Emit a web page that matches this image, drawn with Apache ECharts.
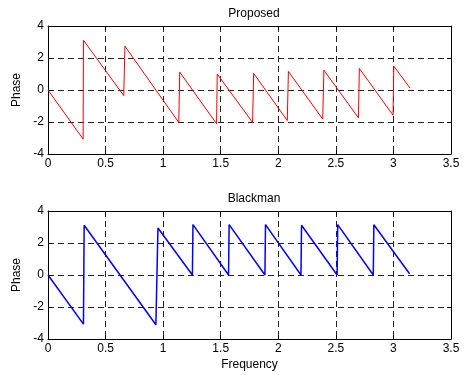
<!DOCTYPE html>
<html>
<head>
<meta charset="utf-8">
<script src="https://cdn.jsdelivr.net/npm/echarts@6/dist/echarts.min.js"></script>
<style>
  html, body { margin: 0; padding: 0; background: #fff; }
  #main { width: 465px; height: 375px; }
</style>
</head>
<body>
<div id="main"></div>
<script>
// Proposed (red)
var propX = [0, 0.305, 0.308, 0.658, 0.668, 1.136, 1.144, 1.464, 1.470, 1.777, 1.786, 2.078, 2.088, 2.386, 2.396, 2.696, 2.704, 2.997, 3.003, 3.145];
var propY = [0, -3.07, 3.11, -0.35, 2.74, -2.03, 1.12, -2.11, 1.00, -2.03, 1.04, -1.91, 1.16, -1.82, 1.24, -1.74, 1.35, -1.58, 1.49, 0.12];

// Blackman (blue)
var blackX = [0, 0.308, 0.314, 0.937, 0.955, 1.254, 1.259, 1.568, 1.573, 1.884, 1.889, 2.197, 2.202, 2.511, 2.516, 2.825, 2.830, 3.14];
var blackY = [0, -3.07, 3.11, -3.11, 2.94, 0, 3.15, 0, 3.15, 0, 3.15, 0, 3.11, 0, 3.15, 0, 3.14, 0.08];

var xTicks = [0, 0.5, 1, 1.5, 2, 2.5, 3, 3.5];
var yTicks = [-4, -2, 0, 2, 4];

function pairs(xs, ys) {
    var out = [];
    for (var i = 0; i < xs.length; i++) out.push([xs[i], ys[i]]);
    return out;
}

var font = 'Liberation Sans, Arial, sans-serif';
var dash = { color: '#222', type: [6, 4], width: 1 };

function xAx(gi, pos, withLabel, name) {
    return {
        gridIndex: gi, type: 'value', position: pos,
        min: 0, max: 3.5, interval: 0.5,
        axisLine: { show: true, onZero: false, lineStyle: { color: '#000', width: 1 } },
        axisTick: { show: true, inside: true, length: 4, lineStyle: { color: '#000' } },
        axisLabel: { show: withLabel, color: '#000', fontSize: 12, fontFamily: font, margin: 4 },
        splitLine: { show: withLabel, lineStyle: dash },
        name: name || '', nameLocation: 'middle', nameGap: 20,
        nameTextStyle: { color: '#000', fontSize: 12, fontFamily: font }
    };
}
function yAx(gi, pos, withLabel) {
    return {
        gridIndex: gi, type: 'value', position: pos,
        min: -4, max: 4, interval: 2,
        axisLine: { show: true, onZero: false, lineStyle: { color: '#000', width: 1 } },
        axisTick: { show: true, inside: true, length: 4, lineStyle: { color: '#000' } },
        axisLabel: { show: withLabel, color: '#000', fontSize: 12, fontFamily: font, margin: 4 },
        splitLine: { show: withLabel, lineStyle: dash },
        name: withLabel ? 'Phase' : '', nameLocation: 'middle', nameGap: 17,
        nameTextStyle: { color: '#000', fontSize: 12, fontFamily: font }
    };
}

var myChart = echarts.init(document.getElementById('main'));
var option = {
    backgroundColor: '#fff',
    animation: false,
    title: [
        { text: 'Proposed', left: 249, top: 3, textAlign: 'center',
          textStyle: { color: '#000', fontSize: 12, fontWeight: 'normal', fontFamily: font } },
        { text: 'Blackman', left: 249, top: 188, textAlign: 'center',
          textStyle: { color: '#000', fontSize: 12, fontWeight: 'normal', fontFamily: font } }
    ],
    grid: [
        { left: 48, right: 14, top: 26, height: 128 },
        { left: 48, right: 14, top: 211, height: 128 }
    ],
    xAxis: [
        xAx(0, 'bottom', true), xAx(0, 'top', false),
        xAx(1, 'bottom', true, 'Frequency'), xAx(1, 'top', false)
    ],
    yAxis: [
        yAx(0, 'left', true), yAx(0, 'right', false),
        yAx(1, 'left', true), yAx(1, 'right', false)
    ],
    series: [
        {
            name: 'Proposed', type: 'line', xAxisIndex: 0, yAxisIndex: 0,
            data: pairs(propX, propY), showSymbol: false,
            lineStyle: { color: '#ff0000', width: 1 }
        },
        {
            name: 'Blackman', type: 'line', xAxisIndex: 2, yAxisIndex: 2,
            data: pairs(blackX, blackY), showSymbol: false,
            lineStyle: { color: '#0000ff', width: 1.5 }
        }
    ]
};
myChart.setOption(option);
</script>
</body>
</html>
